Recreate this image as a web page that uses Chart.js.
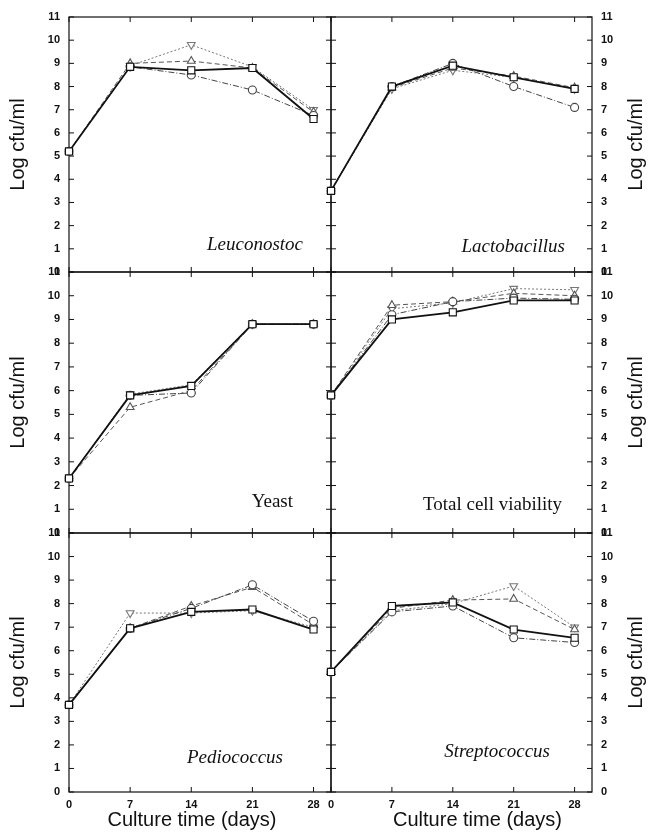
<!DOCTYPE html>
<html><head><meta charset="utf-8">
<script src="https://cdn.jsdelivr.net/npm/chart.js@4.4.1/dist/chart.umd.min.js"></script>
<style>
html,body{margin:0;padding:0;background:#fff;}
#wrap{position:relative;width:651px;height:838px;overflow:hidden;background:#fff;}
.panel{position:absolute;}
.panel canvas{display:block;}
</style></head><body><div id="wrap"></div>
<script>
// ---- data ----
const days = [0, 7, 14, 21, 28];
const xTicks = [0, 7, 14, 21, 28];
const yTicks = [0, 1, 2, 3, 4, 5, 6, 7, 8, 9, 10, 11];
const seriesNames = ['Series □', 'Series ○', 'Series △', 'Series ▽'];

const leuconostocSq  = [5.2, 8.85, 8.7, 8.8, 6.6];
const leuconostocCi  = [5.2, 8.85, 8.5, 7.85, 6.75];
const leuconostocTu  = [5.2, 9.0, 9.1, 8.8, 6.9];
const leuconostocTd  = [5.2, 8.9, 9.8, 8.85, 7.0];

const lactobacillusSq = [3.5, 8.0, 8.9, 8.4, 7.9];
const lactobacillusCi = [3.5, 8.0, 9.0, 8.0, 7.1];
const lactobacillusTu = [3.5, 7.95, 8.8, 8.45, 7.95];
const lactobacillusTd = [3.5, 7.9, 8.7, 8.4, 7.9];

const yeastSq = [2.3, 5.8, 6.2, 8.8, 8.8];
const yeastCi = [2.3, 5.8, 5.9, 8.8, 8.8];
const yeastTu = [2.3, 5.3, 6.0, 8.8, 8.8];
const yeastTd = [2.3, 5.85, 6.25, 8.8, 8.8];

const totalSq = [5.8, 9.0, 9.3, 9.8, 9.8];
const totalCi = [5.8, 9.2, 9.75, 9.9, 9.85];
const totalTu = [5.8, 9.6, 9.75, 10.1, 10.0];
const totalTd = [5.8, 9.45, 9.7, 10.3, 10.25];

const pediococcusSq = [3.7, 6.95, 7.65, 7.75, 6.9];
const pediococcusCi = [3.7, 6.95, 7.8, 8.8, 7.25];
const pediococcusTu = [3.7, 6.95, 7.9, 8.7, 7.1];
const pediococcusTd = [3.7, 7.6, 7.6, 7.7, 7.0];

const streptococcusSq = [5.1, 7.9, 8.05, 6.9, 6.55];
const streptococcusCi = [5.1, 7.65, 7.9, 6.55, 6.35];
const streptococcusTu = [5.1, 7.8, 8.15, 8.2, 6.9];
const streptococcusTd = [5.1, 7.7, 8.0, 8.75, 7.0];

// ---- styles / layout ----
const seriesStyle = [
  {pointStyle:'rect', rotation:0, color:'#111', width:1.8, dash:[], radius:5},
  {pointStyle:'circle', rotation:0, color:'#444', width:1, dash:[6,2,1,2], radius:4},
  {pointStyle:'triangle', rotation:0, color:'#555', width:1, dash:[5,3], radius:4.5},
  {pointStyle:'triangle', rotation:180, color:'#777', width:1, dash:[2,2], radius:4.5}
];

const rows = [
  {top:0, height:282, padTop:17, padBottom:10},
  {top:262, height:280, padTop:10, padBottom:9},
  {top:523, height:315, padTop:10, padBottom:0}
];
const cols = [
  {left:0, width:333, padLeft:0, padRight:2, axisW:69, pos:'left', titleShift:-8},
  {left:320, width:331, padLeft:11, padRight:0, axisW:59, pos:'right', titleShift:16}
];

const panels = [
  {label:'Leuconostoc', italic:true, row:0, col:0, series:[leuconostocSq, leuconostocCi, leuconostocTu, leuconostocTd], dx:28, dy:27},
  {label:'Lactobacillus', italic:true, row:0, col:1, series:[lactobacillusSq, lactobacillusCi, lactobacillusTu, lactobacillusTd], dx:27, dy:25},
  {label:'Yeast', italic:false, row:1, col:0, series:[yeastSq, yeastCi, yeastTu, yeastTd], dx:38, dy:31},
  {label:'Total cell viability', italic:false, row:1, col:1, series:[totalSq, totalCi, totalTu, totalTd], dx:30, dy:28},
  {label:'Pediococcus', italic:true, row:2, col:0, series:[pediococcusSq, pediococcusCi, pediococcusTu, pediococcusTd], dx:48, dy:34},
  {label:'Streptococcus', italic:true, row:2, col:1, series:[streptococcusSq, streptococcusCi, streptococcusTu, streptococcusTd], dx:42, dy:40}
];

const SANS = '"Liberation Sans", Arial, sans-serif';
const SERIF = '"Liberation Serif", "Times New Roman", serif';

const framePlugin = {
  id: 'frame',
  beforeDatasetsDraw(chart) {
    const {ctx, chartArea: a, scales} = chart;
    ctx.save();
    ctx.strokeStyle = '#111';
    ctx.lineWidth = 1.2;
    ctx.strokeRect(a.left, a.top, a.right - a.left, a.bottom - a.top);
    ctx.lineWidth = 1;
    ctx.beginPath();
    yTicks.forEach(v => {
      const y = scales.y.getPixelForValue(v);
      ctx.moveTo(a.left, y); ctx.lineTo(a.left + 5, y);
      ctx.moveTo(a.right, y); ctx.lineTo(a.right - 5, y);
    });
    xTicks.forEach(v => {
      const x = scales.x.getPixelForValue(v);
      ctx.moveTo(x, a.bottom); ctx.lineTo(x, a.bottom - 5);
      ctx.moveTo(x, a.top); ctx.lineTo(x, a.top + 5);
    });
    ctx.stroke();
    ctx.restore();
  },
  afterDraw(chart, args, opts) {
    const {ctx, chartArea: a} = chart;
    ctx.save();
    ctx.fillStyle = '#111';
    ctx.font = (opts.italic ? 'italic ' : '') + '19px ' + SERIF;
    ctx.textAlign = 'right';
    ctx.textBaseline = 'middle';
    ctx.fillText(opts.label, a.right - opts.dx, a.bottom - opts.dy);
    ctx.font = '20px ' + SANS;
    ctx.textAlign = 'center';
    if (opts.bottomTitle) {
      ctx.fillText('Culture time (days)', (a.left + a.right) / 2 + opts.titleShift, chart.height - 18);
    }
    if (opts.rightTitle) {
      ctx.translate(a.right + 44, (a.top + a.bottom) / 2);
      ctx.rotate(-Math.PI / 2);
      ctx.fillText('Log cfu/ml', 0, 0);
    }
    ctx.restore();
  }
};

const wrap = document.getElementById('wrap');
panels.forEach(p => {
  const r = rows[p.row], c = cols[p.col];
  const isBottom = p.row === 2;
  const div = document.createElement('div');
  div.className = 'panel';
  div.style.left = c.left + 'px'; div.style.top = r.top + 'px';
  div.style.width = c.width + 'px'; div.style.height = r.height + 'px';
  const cv = document.createElement('canvas');
  cv.width = c.width; cv.height = r.height;
  cv.style.width = c.width + 'px'; cv.style.height = r.height + 'px';
  div.appendChild(cv); wrap.appendChild(div);

  const datasets = p.series.map((vals, i) => {
    const s = seriesStyle[i];
    return {
      label: seriesNames[i],
      data: vals.map((v, k) => ({x: days[k], y: v})),
      borderColor: s.color, borderWidth: s.width, borderDash: s.dash,
      pointStyle: s.pointStyle, rotation: s.rotation, pointRadius: s.radius,
      pointBackgroundColor: '#fff', pointBorderColor: s.color, pointBorderWidth: 1.1,
      tension: 0, fill: false, clip: false
    };
  });

  new Chart(cv, {
    type: 'line',
    data: {datasets},
    plugins: [framePlugin],
    options: {
      responsive: false, animation: false, maintainAspectRatio: false,
      layout: {autoPadding: false, padding: {top: r.padTop, bottom: r.padBottom, left: c.padLeft, right: c.padRight}},
      plugins: {
        legend: {display: false}, tooltip: {enabled: false},
        frame: {label: p.label, italic: p.italic, dx: p.dx, dy: p.dy,
                rightTitle: c.pos === 'right', bottomTitle: isBottom, titleShift: c.titleShift}
      },
      scales: {
        x: {
          type: 'linear', min: 0, max: 30, position: 'bottom',
          grid: {display: false, drawTicks: false}, border: {display: false},
          ticks: {display: isBottom, color: '#111', padding: 6, maxRotation: 0, autoSkip: false,
                  font: {family: SANS, size: 11, weight: 'bold'}},
          afterBuildTicks: s => { s.ticks = xTicks.map(v => ({value: v})); },
          afterFit: s => { s.height = isBottom ? 46 : 0; s.paddingLeft = 0; s.paddingRight = 0; },
          title: {display: false}
        },
        y: {
          type: 'linear', min: 0, max: 11, position: c.pos,
          grid: {display: false, drawTicks: false}, border: {display: false},
          ticks: {color: '#111', padding: 9, autoSkip: false,
                  font: {family: SANS, size: 11, weight: 'bold'}},
          afterBuildTicks: s => { s.ticks = yTicks.map(v => ({value: v})); },
          afterFit: s => { s.width = c.axisW; s.paddingTop = 0; s.paddingBottom = 0; },
          title: {display: c.pos === 'left', text: 'Log cfu/ml', color: '#111',
                  font: {family: SANS, size: 20}, padding: {top: 6, bottom: 0}}
        }
      }
    }
  });
});
</script>
</body></html>
